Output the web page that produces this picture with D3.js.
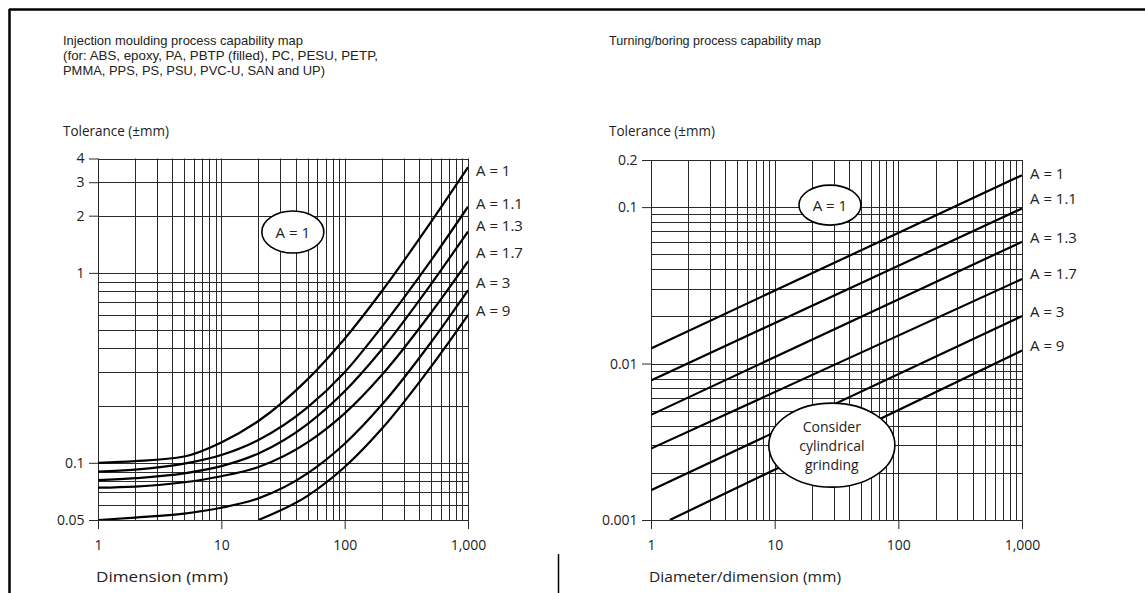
<!DOCTYPE html>
<html><head><meta charset="utf-8">
<script src="https://cdn.jsdelivr.net/npm/d3@7"></script>
<style>
body{margin:0;background:#fff}
svg text{font-family:"Open Sans","Noto Sans",sans-serif;fill:#222}
svg text.ttl{font-family:"Liberation Sans","Open Sans",sans-serif}
</style>
</head><body><svg id="c" width="1145" height="593"></svg>
<script>
// ---------- data: injection moulding (left) ----------
const imDims   = [1, 2, 5, 10, 20, 50, 100, 200, 500, 1000];
const imA1     = [0.100, 0.102, 0.108, 0.128, 0.166, 0.275, 0.45, 0.80, 1.85, 3.6];
const imA1_1   = [0.090, 0.092, 0.099, 0.110, 0.132, 0.196, 0.30, 0.52, 1.16, 2.23];
const imA1_3   = [0.081, 0.083, 0.088, 0.096, 0.112, 0.160, 0.238, 0.395, 0.87, 1.65];
const imA1_7   = [0.074, 0.075, 0.079, 0.085, 0.095, 0.128, 0.182, 0.29, 0.615, 1.15];
const imA3     = [0.050, 0.0515, 0.054, 0.058, 0.065, 0.088, 0.126, 0.202, 0.43, 0.81];
const imDimsA9 = [20, 50, 100, 200, 500, 1000];
const imA9     = [0.050, 0.067, 0.095, 0.151, 0.32, 0.60];
const curveNames = ["A = 1", "A = 1.1", "A = 1.3", "A = 1.7", "A = 3", "A = 9"];
const imLabelTol = [3.48, 2.34, 1.79, 1.29, 0.897, 0.638];
const imYTicks  = [0.05, 0.1, 1, 2, 3, 4];
const imYLabels = ["0.05", "0.1", "1", "2", "3", "4"];

// ---------- data: turning/boring (right) ----------
const tuDims   = [1, 1000];
const tuA1     = [0.0125, 0.160];
const tuA1_1   = [0.0078, 0.098];
const tuA1_3   = [0.0047, 0.060];
const tuA1_7   = [0.00286, 0.0347];
const tuA3     = [0.00155, 0.0201];
const tuDimsA9 = [1.42, 1000];
const tuA9     = [0.001, 0.0121];
const tuLabelTol = [0.166, 0.114, 0.0643, 0.0379, 0.0216, 0.0131];
const tuYTicks  = [0.001, 0.01, 0.1, 0.2];
const tuYLabels = ["0.001", "0.01", "0.1", "0.2"];

const xTickVals   = [1, 10, 100, 1000];
const xTickLabels = ["1", "10", "100", "1,000"];

// ---------- drawing ----------
const svg = d3.select("#c");

// page frame
svg.append("line").attr("x1",9).attr("x2",1145).attr("y1",9.5).attr("y2",9.5).attr("stroke","#000").attr("stroke-width",2.5);
svg.append("line").attr("x1",9.5).attr("x2",9.5).attr("y1",9).attr("y2",593).attr("stroke","#000").attr("stroke-width",2.5);
svg.append("line").attr("x1",558.5).attr("x2",558.5).attr("y1",554).attr("y2",593).attr("stroke","#000").attr("stroke-width",1.5);

function fitText(sel, txt, w){
  sel.text(txt).attr("textLength", w).attr("lengthAdjust","spacingAndGlyphs");
  return sel;
}

function panel(opt){
  const x = d3.scaleLog().domain([1,1000]).range([opt.x0, opt.x1]);
  const y = d3.scaleLog().domain(opt.yDomain).range([opt.y1, opt.y0]);
  const g = svg.append("g");
  const clipId = "clip" + opt.id;
  svg.append("defs").append("clipPath").attr("id", clipId)
    .append("rect").attr("x",opt.x0).attr("y",opt.y0).attr("width",opt.x1-opt.x0).attr("height",opt.y1-opt.y0);

  // grid
  const grid = g.append("g").attr("stroke","#2a2a2a").attr("stroke-width",1);
  x.ticks().forEach(v=>{
    grid.append("line").attr("x1",Math.round(x(v))+0.5).attr("x2",Math.round(x(v))+0.5)
      .attr("y1",opt.y0).attr("y2",opt.y1);
  });
  y.ticks().concat(opt.yDomain).forEach(v=>{
    grid.append("line").attr("y1",Math.round(y(v))+0.5).attr("y2",Math.round(y(v))+0.5)
      .attr("x1",opt.x0).attr("x2",opt.x1);
  });

  // axes
  const ax = g.append("g").attr("transform",`translate(0,${opt.y1})`)
    .call(d3.axisBottom(x).tickValues(xTickVals).tickFormat((d,i)=>xTickLabels[i]).tickSize(9).tickSizeOuter(0));
  const ay = g.append("g").attr("transform",`translate(${opt.x0},0)`)
    .call(d3.axisLeft(y).tickValues(opt.yTicks).tickFormat((d,i)=>opt.yLabels[i]).tickSize(9).tickSizeOuter(0));
  [ax,ay].forEach(a=>{
    a.select(".domain").remove();
    a.selectAll("line").attr("stroke","#2a2a2a");
    a.selectAll("text").style("font-size","14px").attr("fill","#222");
  });
  ax.selectAll("text").attr("dy","1.25em");
  ay.selectAll("text").attr("dx","-0.1em");

  // curves
  const line = d3.line().x(d=>x(d[0])).y(d=>y(d[1])).curve(opt.curve);
  const cg = g.append("g").attr("clip-path",`url(#${clipId})`);
  opt.series.forEach(s=>{
    cg.append("path").attr("d", line(s.dims.map((d,i)=>[d,s.vals[i]])))
      .attr("fill","none").attr("stroke","#000").attr("stroke-width",2.2);
  });

  // curve labels
  curveNames.forEach((n,i)=>{
    g.append("text").attr("x",opt.x1+8).attr("y",y(opt.labelTol[i]))
      .attr("dominant-baseline","central").style("font-size","15px").text(n);
  });

  // axis titles
  fitText(g.append("text").attr("x",opt.tolX).attr("y",136).style("font-size","14px"), "Tolerance (\u00b1mm)", 106);
  fitText(g.append("text").attr("x",opt.x0-2).attr("y",582).style("font-size","15px"), opt.xTitle, opt.xTitleW);
  opt.titles.forEach((s,i)=>{
    fitText(g.append("text").attr("class","ttl").attr("x",opt.tolX).attr("y",45+i*15).style("font-size","13px"), s, opt.titleW[i]);
  });

  return {x,y,g};
}

const L = panel({
  id:"L", x0:98, x1:468, y0:158.5, y1:520, yDomain:[0.05,4],
  yTicks:imYTicks, yLabels:imYLabels, labelTol:imLabelTol, curve:d3.curveMonotoneX,
  tolX:63, xTitle:"Dimension (mm)", xTitleW:132,
  titles:["Injection moulding process capability map",
          "(for: ABS, epoxy, PA, PBTP (filled), PC, PESU, PETP,",
          "PMMA, PPS, PS, PSU, PVC-U, SAN and UP)"],
  titleW:[240, 315, 262],
  series:[
    {dims:imDims, vals:imA1},{dims:imDims, vals:imA1_1},{dims:imDims, vals:imA1_3},
    {dims:imDims, vals:imA1_7},{dims:imDims, vals:imA3},{dims:imDimsA9, vals:imA9}
  ]
});

const R = panel({
  id:"R", x0:651, x1:1022, y0:160, y1:520, yDomain:[0.001,0.2],
  yTicks:tuYTicks, yLabels:tuYLabels, labelTol:tuLabelTol, curve:d3.curveLinear,
  tolX:609, xTitle:"Diameter/dimension (mm)", xTitleW:192,
  titles:["Turning/boring process capability map"],
  titleW:[212],
  series:[
    {dims:tuDims, vals:tuA1},{dims:tuDims, vals:tuA1_1},{dims:tuDims, vals:tuA1_3},
    {dims:tuDims, vals:tuA1_7},{dims:tuDims, vals:tuA3},{dims:tuDimsA9, vals:tuA9}
  ]
});

// ellipse annotations
function bubble(P, dx, dy, rx, ry, lines, fs){
  const cx = P.x(dx), cy = P.y(dy);
  P.g.append("ellipse").attr("cx",cx).attr("cy",cy).attr("rx",rx).attr("ry",ry)
    .attr("fill","#fff").attr("stroke","#000").attr("stroke-width",1.6);
  const t = P.g.append("text").attr("x",cx).attr("y",cy - (lines.length-1)/2*19)
    .attr("text-anchor","middle").attr("dominant-baseline","central").style("font-size",fs+"px");
  lines.forEach((s,i)=>{
    t.append("tspan").attr("x",cx).attr("dy", i===0 ? 0 : 19).text(s);
  });
}
bubble(L, 38, 1.64, 31, 21, ["A = 1"], 15);
bubble(R, 28, 0.103, 31, 20, ["A = 1"], 15);
bubble(R, 29, 0.00301, 63, 42, ["Consider","cylindrical","grinding"], 14);
</script></body></html>
